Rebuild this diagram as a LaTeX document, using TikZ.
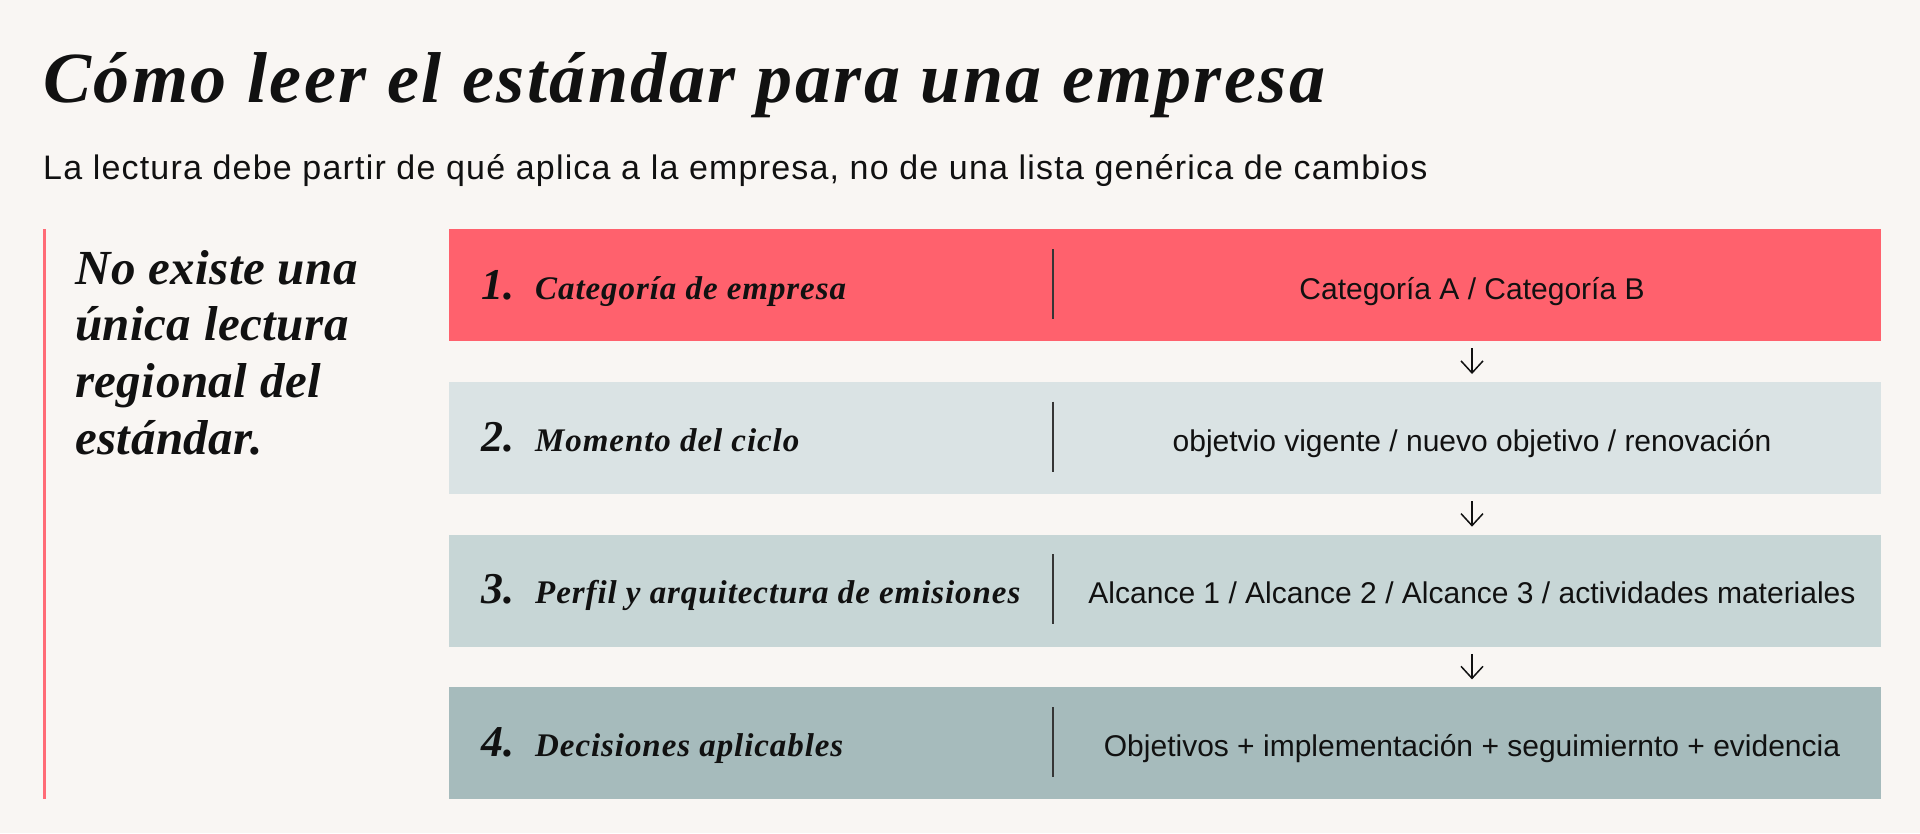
\documentclass[tikz,border=0pt]{standalone}
\usepackage{fontspec}
\setmainfont{Liberation Serif}
\setsansfont{Liberation Sans}
\newfontfamily\titlefont[LetterSpace=3.5]{Liberation Serif}
\newfontfamily\leadfont[LetterSpace=1.0]{Liberation Serif}
\newfontfamily\labelfont[LetterSpace=2.8]{Liberation Serif}
\newfontfamily\subfont[LetterSpace=3.5]{Liberation Sans}
\usetikzlibrary{arrows.meta,calc}

\definecolor{paper}{HTML}{F9F6F3}
\definecolor{coral}{HTML}{FF616D}
\definecolor{accent}{HTML}{FF6B76}
\definecolor{mist}{HTML}{DAE3E4}
\definecolor{sage}{HTML}{C7D6D6}
\definecolor{slate}{HTML}{A6BBBC}
\definecolor{ink}{HTML}{111111}

\tikzset{
  band/.style={rectangle,anchor=north west,inner sep=0,minimum width=1432pt,minimum height=112pt},
  stepnum/.style={anchor=base west,inner sep=0,text=ink,font=\bfseries\itshape\fontsize{44}{50}\selectfont},
  steplabel/.style={anchor=base west,inner sep=0,text=ink,font=\labelfont\bfseries\itshape\fontsize{33}{38}\selectfont},
  stepvalue/.style={anchor=base,inner sep=0,text=ink,font=\sffamily\fontsize{30}{34}\selectfont},
  divider/.style={ink!85,line width=1.1pt},
  flow/.style={ink,line width=1.5pt,-{Straight Barb[length=12pt,width=22pt]},shorten <=7pt,shorten >=7.7pt}
}

\begin{document}
\begin{tikzpicture}[x=1pt,y=-1pt]

% Paper and page size
\fill[paper] (0,0) rectangle (1920,833);
\useasboundingbox (0,0) rectangle (1920,833);

% Heading
\node[anchor=base west,inner sep=0,text=ink,font=\titlefont\bfseries\itshape\fontsize{72}{86}\selectfont] (title) at (43,102) {Cómo leer el estándar para una empresa};
\node[anchor=base west,inner sep=0,text=ink,font=\subfont\fontsize{34}{40}\selectfont] (subtitle) at (43,179) {La lectura debe partir de qué aplica a la empresa, no de una lista genérica de cambios};

% Left statement with its red rule
\draw[accent,line width=2.7pt] (44.7,229) -- (44.7,799);
\node[anchor=north west,inner sep=0,align=left,text=ink,font=\leadfont\bfseries\itshape\fontsize{49}{56.7}\selectfont] (lead) at (75,250) {No existe una\\única lectura\\regional del\\estándar.};

% Draw the bands
\node[band,fill=coral] (box1) at (449,229) {};
\node[band,fill=mist] (box2) at (449,381.7) {};
\node[band,fill=sage] (box3) at (449,534.4) {};
\node[band,fill=slate] (box4) at (449,687.1) {};

% Draw the dividers
\draw[divider] ($(box1.north west)+(604,20)$) -- ($(box1.north west)+(604,90)$);
\draw[divider] ($(box2.north west)+(604,20)$) -- ($(box2.north west)+(604,90)$);
\draw[divider] ($(box3.north west)+(604,20)$) -- ($(box3.north west)+(604,90)$);
\draw[divider] ($(box4.north west)+(604,20)$) -- ($(box4.north west)+(604,90)$);

% Step numbers and names
\node[stepnum] (num1) at (481,299) {1.};
\node[steplabel] (name1) at (535,299) {Categoría de empresa};
\node[stepnum] (num2) at (481,451) {2.};
\node[steplabel] (name2) at (535,451) {Momento del ciclo};
\node[stepnum] (num3) at (481,603) {3.};
\node[steplabel] (name3) at (535,603) {Perfil y arquitectura de emisiones};
\node[stepnum] (num4) at (481,756) {4.};
\node[steplabel] (name4) at (535,756) {Decisiones aplicables};

% What each step covers
\node[stepvalue] (val1) at (1472,299) {Categoría A / Categoría B};
\node[stepvalue] (val2) at (1472,451) {objetvio vigente / nuevo objetivo / renovación};
\node[stepvalue] (val3) at (1472,603) {Alcance 1 / Alcance 2 / Alcance 3 / actividades materiales};
\node[stepvalue] (val4) at (1472,756) {Objetivos + implementación + seguimiernto + evidencia};

% Draw the arrows between bands
\draw[flow] (box1.south -| val1) -- (box2.north -| val1);
\draw[flow] (box2.south -| val2) -- (box3.north -| val2);
\draw[flow] (box3.south -| val3) -- (box4.north -| val3);

\end{tikzpicture}
\end{document}
